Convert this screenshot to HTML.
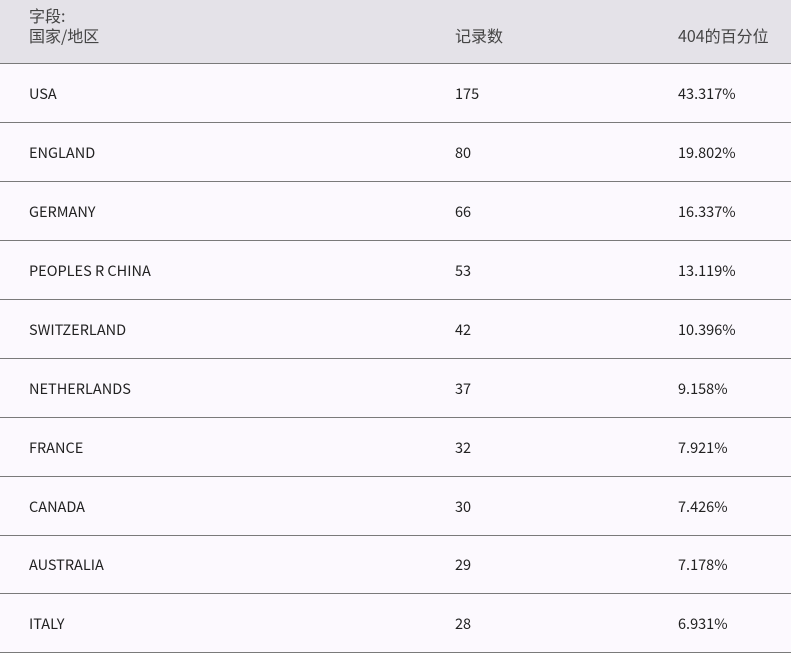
<!DOCTYPE html>
<html><head><meta charset="utf-8"><style>
body{margin:0;width:791px;height:650px;background:#fcf9fe;overflow:hidden;font-family:"Noto Sans CJK SC","Liberation Sans",sans-serif;font-size:14.5px;color:#222}
.h{position:absolute;left:0;top:0;width:791px;height:63px;background:#e4e2e8;border-bottom:1px solid #7a7a7a;color:#444;font-size:16px}
.r{position:absolute;left:0;width:791px;height:58px;border-bottom:1px solid #7a7a7a}
.c{position:absolute;line-height:18px}
</style></head><body>
<div class="h">
<div class="c" style="left:29px;top:6px">字段:</div>
<div class="c" style="left:29px;top:26px">国家/地区</div>
<div class="c" style="left:455px;top:26px">记录数</div>
<div class="c" style="left:678px;top:26px">404的百分位</div>
</div>
<div id="rows"></div>
<script>
var d=[["USA",175,"43.317%"],["ENGLAND",80,"19.802%"],["GERMANY",66,"16.337%"],["PEOPLES R CHINA",53,"13.119%"],["SWITZERLAND",42,"10.396%"],["NETHERLANDS",37,"9.158%"],["FRANCE",32,"7.921%"],["CANADA",30,"7.426%"],["AUSTRALIA",29,"7.178%"],["ITALY",28,"6.931%"]];
var tops=[64,123,182,241,300,359,418,477,535,594],h="";
d.forEach(function(r,i){h+='<div class="r" style="top:'+tops[i]+'px"><div class="c" style="left:29px;top:21px">'+r[0]+'</div><div class="c" style="left:455px;top:21px">'+r[1]+'</div><div class="c" style="left:678px;top:21px">'+r[2]+'</div></div>';});
document.getElementById("rows").innerHTML=h;
</script>
</body></html>
